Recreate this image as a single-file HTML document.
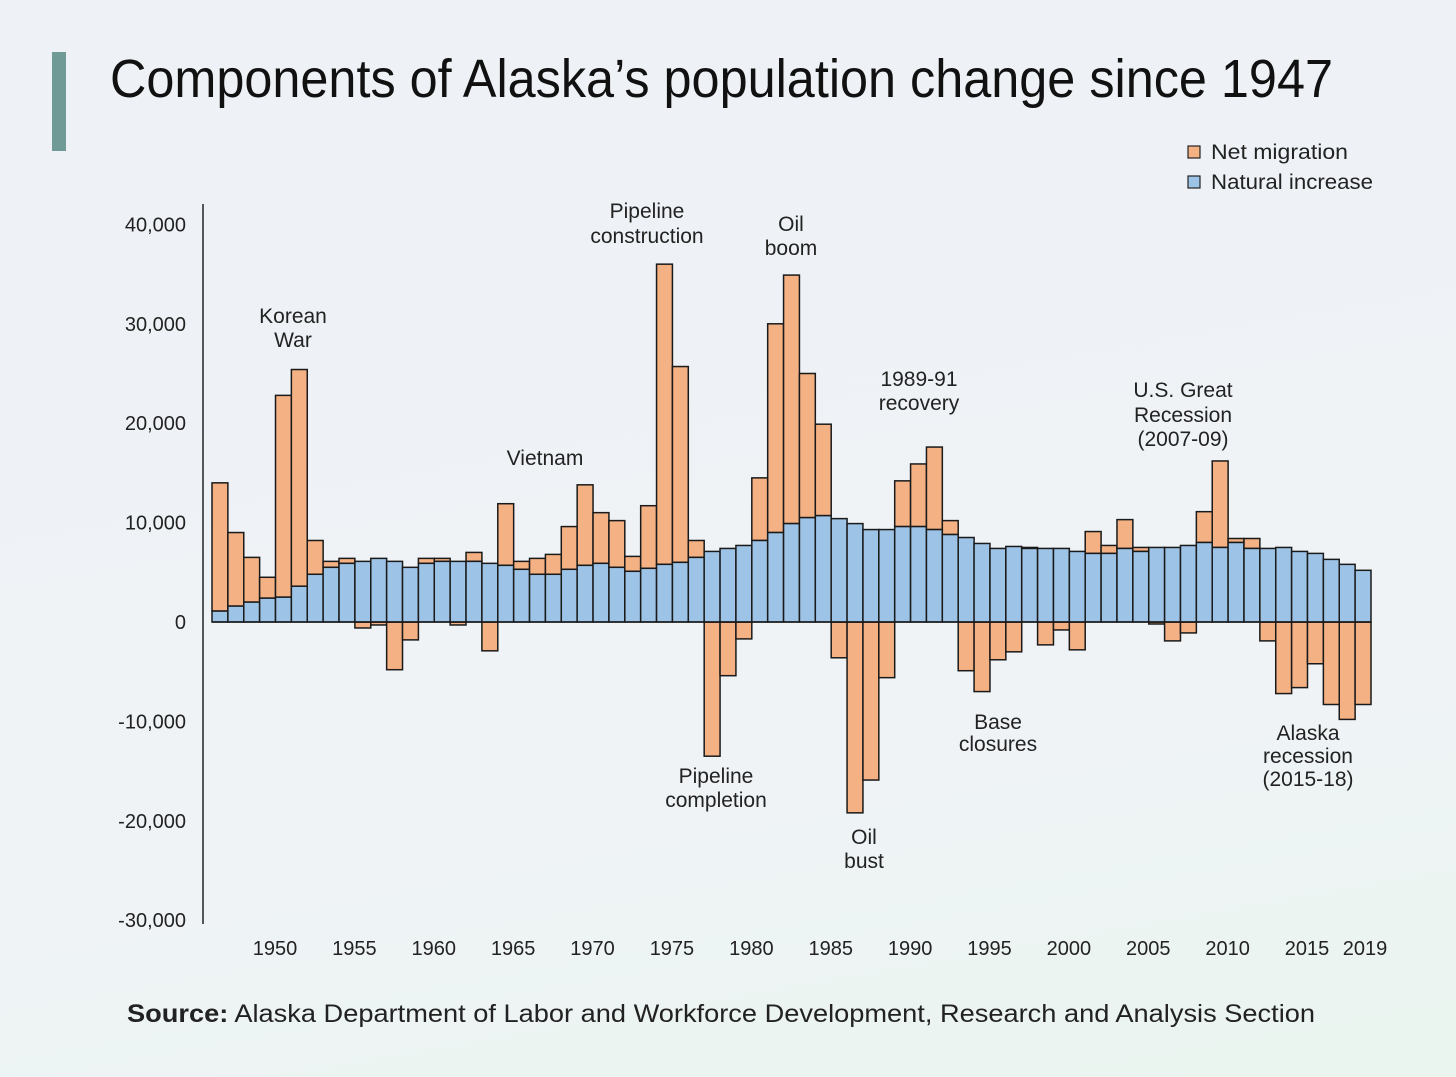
<!DOCTYPE html>
<html><head><meta charset="utf-8"><title>Components of Alaska's population change</title>
<style>
html,body{margin:0;padding:0;}
body{width:1456px;height:1077px;overflow:hidden;background:linear-gradient(170deg,#eef2f6 0%,#eff3f6 70%,#eaf5ef 100%);font-family:"Liberation Sans",sans-serif;}
svg{display:block;}
</style></head>
<body>
<svg id="chart" width="1456" height="1077" viewBox="0 0 1456 1077">
  <rect x="52" y="52" width="14" height="99" fill="#6f9a96"/>
  <text x="110" y="97" font-family="'Liberation Sans Narrow','Liberation Sans',sans-serif" font-size="54" textLength="1223" lengthAdjust="spacingAndGlyphs" fill="#111">Components of Alaska’s population change since 1947</text>
  <g>
    <g>
      <rect x="1188" y="146" width="12" height="12" fill="#f4b183" stroke="#222" stroke-width="1.2"/>
      <text x="1211" y="159" font-size="21" textLength="137" lengthAdjust="spacingAndGlyphs" fill="#222">Net migration</text>
    </g>
    <g>
      <rect x="1188" y="176" width="12" height="12" fill="#9dc3e6" stroke="#222" stroke-width="1.2"/>
      <text x="1211" y="189" font-size="21" textLength="162" lengthAdjust="spacingAndGlyphs" fill="#222">Natural increase</text>
    </g>
  </g>
  <g id="yaxisG"></g>
  <g id="barsG"></g>
  <g id="xaxisG"></g>
  <g id="annotG" font-size="21" fill="#222" text-anchor="middle"></g>
  <text x="127" y="1022" font-size="25" fill="#222" textLength="1188" lengthAdjust="spacingAndGlyphs"><tspan font-weight="bold">Source:</tspan> Alaska Department of Labor and Workforce Development, Research and Analysis Section</text>
</svg>
<script>
var firstYear = 1947;
var naturalIncrease = [1.1,1.6,2.0,2.4,2.5,3.6,4.8,5.5,5.9,6.1,6.4,6.1,5.5,5.9,6.1,6.1,6.1,5.9,5.7,5.3,4.8,4.8,5.3,5.7,5.9,5.5,5.1,5.4,5.8,6.0,6.5,7.1,7.4,7.7,8.2,9.0,9.9,10.5,10.7,10.4,9.9,9.3,9.3,9.6,9.6,9.3,8.8,8.5,7.9,7.4,7.6,7.4,7.4,7.4,7.1,6.9,6.9,7.4,7.1,7.5,7.5,7.7,8.0,7.5,8.0,7.4,7.4,7.5,7.1,6.9,6.3,5.8,5.2];
var netMigration = [12.9,7.4,4.5,2.1,20.3,21.8,3.4,0.6,0.5,-0.6,-0.3,-4.8,-1.8,0.5,0.3,-0.3,0.9,-2.9,6.2,0.8,1.6,2.0,4.3,8.1,5.1,4.7,1.5,6.3,30.2,19.7,1.7,-13.5,-5.4,-1.7,6.3,21.0,25.0,14.5,9.2,-3.6,-19.2,-15.9,-5.6,4.6,6.3,8.3,1.4,-4.9,-7.0,-3.8,-3.0,0.1,-2.3,-0.8,-2.8,2.2,0.8,2.9,0.4,-0.2,-1.9,-1.1,3.1,8.7,0.4,1.0,-1.9,-7.2,-6.6,-4.2,-8.3,-9.8,-8.3];
var yTicks = [40000,30000,20000,10000,0,-10000,-20000,-30000];
var yTickLabels = ["40,000","30,000","20,000","10,000","0","-10,000","-20,000","-30,000"];
var xTickYears = [1950,1955,1960,1965,1970,1975,1980,1985,1990,1995,2000,2005,2010,2015,2019];

var NS = "http://www.w3.org/2000/svg";
var nYears = naturalIncrease.length;
var X0 = 212, X1 = 1371, BW = (X1 - X0) / nYears;
var Y_ZERO = 622, PX_PER_1000 = 9.94;
function xScale(year){ return X0 + (year - firstYear) * BW; }
function yScale(v){ return Y_ZERO - (v / 1000) * PX_PER_1000; }

var yg = document.getElementById('yaxisG');
var axisLine = document.createElementNS(NS, 'line');
axisLine.setAttribute('x1', '203'); axisLine.setAttribute('x2', '203');
axisLine.setAttribute('y1', '204'); axisLine.setAttribute('y2', '924');
axisLine.setAttribute('stroke', '#222'); axisLine.setAttribute('stroke-width', '1.5');


yg.appendChild(axisLine);
for (var i = 0; i < yTicks.length; i++) {
  var t = document.createElementNS(NS, 'text');
  t.setAttribute('x', '186');
  t.setAttribute('y', String(yScale(yTicks[i]) + 7));
  t.setAttribute('font-size', '20');
  t.setAttribute('text-anchor', 'end');
  t.setAttribute('fill', '#222');
  t.textContent = yTickLabels[i];
  
  
  yg.appendChild(t);
}

var bg = document.getElementById('barsG');
for (var j = 0; j < nYears; j++) {
  var yr = firstYear + j;
  var bx = xScale(yr);
  var ni = naturalIncrease[j] * 1000, nm = netMigration[j] * 1000;
  var yTop, yBot;
  if (nm >= 0) { yTop = yScale(ni + nm); yBot = yScale(ni); } else { yTop = yScale(0); yBot = yScale(nm); }
  var o = document.createElementNS(NS, 'rect');
  o.setAttribute('x', bx.toFixed(2));
  o.setAttribute('y', Math.min(yTop, yBot).toFixed(2));
  o.setAttribute('width', BW.toFixed(2));
  o.setAttribute('height', Math.abs(yBot - yTop).toFixed(2));
  o.setAttribute('fill', '#f4b183');
  o.setAttribute('stroke', '#1a1a1a');
  o.setAttribute('stroke-width', '1.5');
  
  
  bg.appendChild(o);
  var b = document.createElementNS(NS, 'rect');
  b.setAttribute('x', bx.toFixed(2));
  b.setAttribute('y', yScale(ni).toFixed(2));
  b.setAttribute('width', BW.toFixed(2));
  b.setAttribute('height', (Y_ZERO - yScale(ni)).toFixed(2));
  b.setAttribute('fill', '#9dc3e6');
  b.setAttribute('stroke', '#1a1a1a');
  b.setAttribute('stroke-width', '1.5');
  
  
  bg.appendChild(b);
}
var zl = document.createElementNS(NS, 'line');
zl.setAttribute('x1', String(X0)); zl.setAttribute('x2', String(X1));
zl.setAttribute('y1', String(Y_ZERO)); zl.setAttribute('y2', String(Y_ZERO));
zl.setAttribute('stroke', '#1a1a1a'); zl.setAttribute('stroke-width', '1.5');


bg.appendChild(zl);

var xg = document.getElementById('xaxisG');
for (var k = 0; k < xTickYears.length; k++) {
  var ty = xTickYears[k];
  var cx = (ty === 2019) ? xScale(ty) + BW / 2 + 2 : xScale(ty) + BW * 0.97;
  var tx = document.createElementNS(NS, 'text');
  tx.setAttribute('x', cx.toFixed(2));
  tx.setAttribute('y', '955');
  tx.setAttribute('font-size', '20');
  tx.setAttribute('text-anchor', 'middle');
  tx.setAttribute('fill', '#222');
  tx.textContent = String(ty);
  
  
  xg.appendChild(tx);
}

var annotations = [
  {name:'korean-war', x:293, lines:['Korean','War'], y:[316,340]},
  {name:'vietnam', x:545, lines:['Vietnam'], y:[458]},
  {name:'pipeline-construction', x:647, lines:['Pipeline','construction'], y:[211,236]},
  {name:'oil-boom', x:791, lines:['Oil','boom'], y:[224,248]},
  {name:'recovery-1989-91', x:919, lines:['1989-91','recovery'], y:[379,403]},
  {name:'great-recession', x:1183, lines:['U.S. Great','Recession','(2007-09)'], y:[390,415,439]},
  {name:'pipeline-completion', x:716, lines:['Pipeline','completion'], y:[776,800]},
  {name:'oil-bust', x:864, lines:['Oil','bust'], y:[837,861]},
  {name:'base-closures', x:998, lines:['Base','closures'], y:[722,744]},
  {name:'alaska-recession', x:1308, lines:['Alaska','recession','(2015-18)'], y:[733,756,779]}
];
var ag = document.getElementById('annotG');
for (var a = 0; a < annotations.length; a++) {
  var an = annotations[a];
  var at = document.createElementNS(NS, 'text');
  at.setAttribute('x', String(an.x));
  
  
  for (var m = 0; m < an.lines.length; m++) {
    var s = document.createElementNS(NS, 'tspan');
    s.setAttribute('x', String(an.x));
    s.setAttribute('y', String(an.y[m] + 7));
    s.textContent = an.lines[m];
    at.appendChild(s);
  }
  ag.appendChild(at);
}
</script>
</body></html>
